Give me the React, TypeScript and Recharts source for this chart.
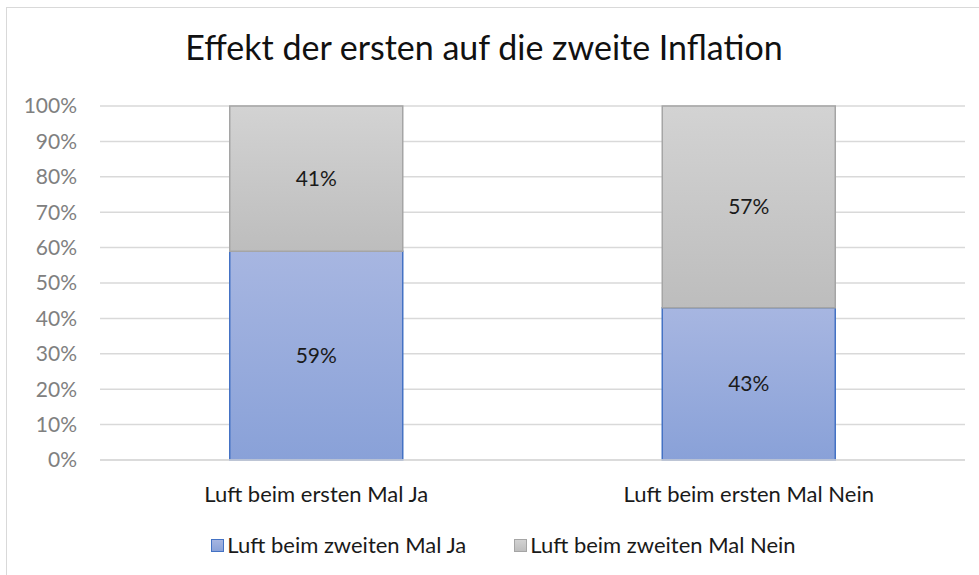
import React from "react";
import { BarChart, Bar, XAxis, YAxis, CartesianGrid, LabelList, Legend } from "recharts";

const categories = ["Luft beim ersten Mal Ja", "Luft beim ersten Mal Nein"];
const zweitesMalJa = [59, 43];
const zweitesMalNein = [41, 57];
const yTicks = [0, 10, 20, 30, 40, 50, 60, 70, 80, 90, 100];

const seriesNames = ["Luft beim zweiten Mal Ja", "Luft beim zweiten Mal Nein"];

const data = categories.map((name, i) => ({
  name,
  ja: zweitesMalJa[i],
  nein: zweitesMalNein[i],
}));

const FONT = "Lato, 'Open Sans', sans-serif";

const LegendBox = () => (
  <div style={{ display: "flex", justifyContent: "center", fontFamily: FONT, fontSize: 22, color: "#1a1a1a", paddingLeft: 28, lineHeight: "26px" }}>
    {seriesNames.map((n, i) => (
      <div key={n} style={{ display: "flex", alignItems: "center", marginRight: i === 0 ? 48 : 0 }}>
        <span
          style={{
            display: "inline-block",
            width: 13,
            height: 13,
            marginRight: 3,
            boxSizing: "border-box",
            border: i === 0 ? "1.5px solid #4472c4" : "1.5px solid #a5a5a5",
            background: i === 0 ? "linear-gradient(#a6b5e1, #8aa2d8)" : "linear-gradient(#d2d2d2, #bebebe)",
          }}
        />
        {n}
      </div>
    ))}
  </div>
);

const App = () => {
  return (
    <div style={{ position: "absolute", left: 0, top: 0, width: 979, height: 575, background: "#fff", overflow: "hidden" }}>
      <div style={{ position: "absolute", left: 6, top: 7, width: 1000, height: 600, border: "1.5px solid #d9d9d9", boxSizing: "border-box" }} />
      <div
        style={{
          position: "absolute",
          top: 25,
          left: 0,
          width: 968,
          textAlign: "center",
          fontFamily: FONT,
          fontSize: 34,
          lineHeight: "44px",
          color: "#111",
        }}
      >
        Effekt der ersten auf die zweite Inflation
      </div>
      <BarChart
        width={979}
        height={575}
        data={data}
        margin={{ top: 106, right: 14, bottom: 65, left: 0 }}
        barCategoryGap="30%"
        style={{ position: "absolute", left: 0, top: 0 }}
      >
        <defs>
          <linearGradient id="blueGrad" x1="0" y1="0" x2="0" y2="1">
            <stop offset="0%" stopColor="#a7b6e1" />
            <stop offset="100%" stopColor="#89a1d8" />
          </linearGradient>
          <linearGradient id="grayGrad" x1="0" y1="0" x2="0" y2="1">
            <stop offset="0%" stopColor="#d3d3d3" />
            <stop offset="100%" stopColor="#bdbdbd" />
          </linearGradient>
        </defs>
        <CartesianGrid vertical={false} stroke="#d9d9d9" strokeWidth={1.5} />
        <XAxis
          dataKey="name"
          axisLine={{ stroke: "#d9d9d9", strokeWidth: 1.5 }}
          tickLine={false}
          tickSize={0}
          tickMargin={26}
          height={50}
          interval={0}
          tick={{ fill: "#1a1a1a", fontSize: 22, fontFamily: FONT }}
        />
        <YAxis
          type="number"
          domain={[0, 100]}
          ticks={yTicks}
          interval={0}
          width={100}
          axisLine={false}
          tickLine={false}
          tickSize={0}
          tickMargin={23}
          tickFormatter={(v) => `${v}%`}
          tick={{ fill: "#808080", fontSize: 21, fontFamily: FONT }}
        />
        <Legend
          layout="horizontal"
          verticalAlign="middle"
          align="center"
          wrapperStyle={{ top: 532, left: 0, width: 979 }}
          content={() => <LegendBox />}
        />
        <Bar dataKey="ja" name={seriesNames[0]} stackId="a" fill="url(#blueGrad)" stroke="#4472c4" strokeWidth={1.5} isAnimationActive={false}>
          <LabelList dataKey="ja" position="center" formatter={(v: any) => `${v}%`} fill="#1a1a1a" fontSize={21} fontFamily={FONT} />
        </Bar>
        <Bar dataKey="nein" name={seriesNames[1]} stackId="a" fill="url(#grayGrad)" stroke="#a5a5a5" strokeWidth={1.5} isAnimationActive={false}>
          <LabelList dataKey="nein" position="center" formatter={(v: any) => `${v}%`} fill="#1a1a1a" fontSize={21} fontFamily={FONT} />
        </Bar>
      </BarChart>
    </div>
  );
};

export default App;
